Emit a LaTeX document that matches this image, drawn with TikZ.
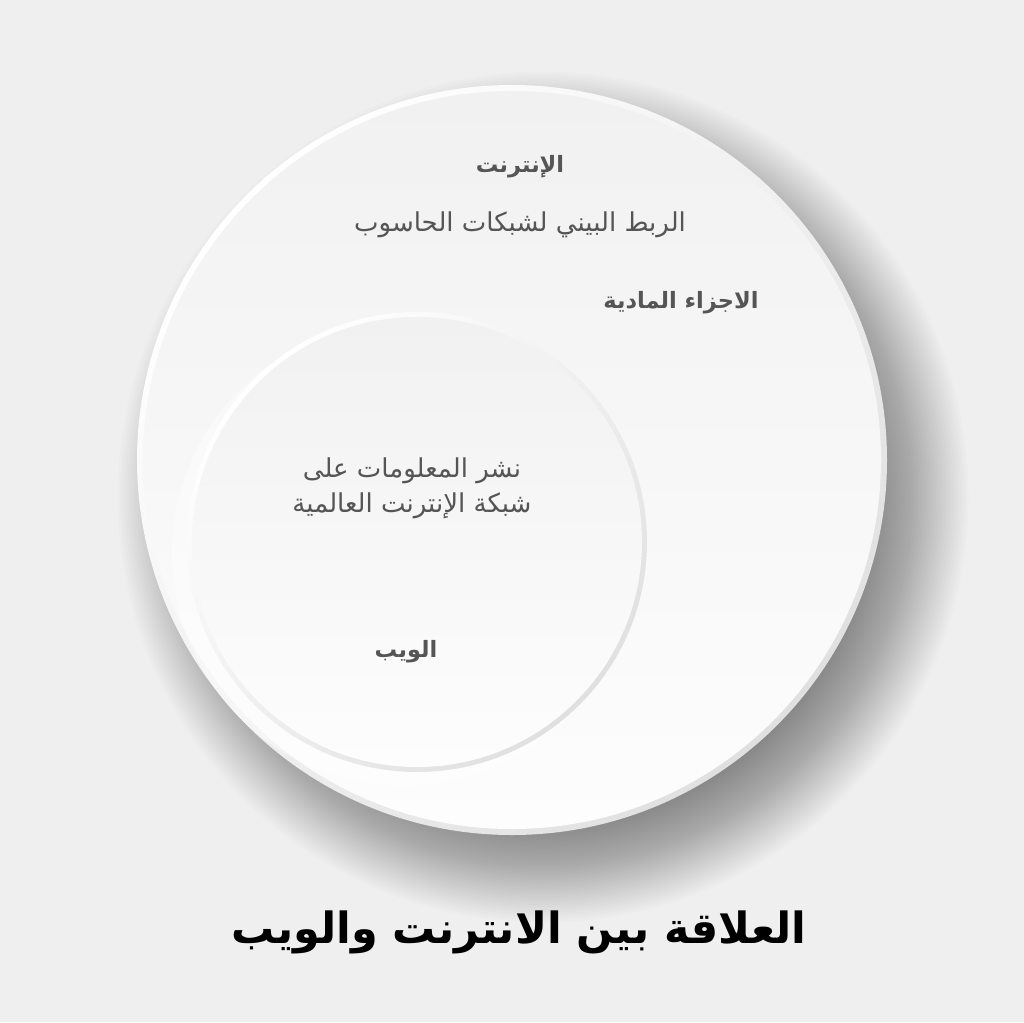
\documentclass[tikz,border=0pt]{standalone}
\usepackage{fontspec}
\newfontfamily\arabicfont[Script=Arabic]{DejaVu Sans}
\TeXXeTstate=1
\usepackage{tikz}
\definecolor{bgcol}{HTML}{EFEFEF}
\definecolor{labelcol}{HTML}{555555}
\definecolor{rimcol}{HTML}{E0E0E0}
\definecolor{facetop}{HTML}{F1F1F1}
\definecolor{facebot}{HTML}{FDFDFD}
\tikzset{label text/.style={text=labelcol, align=center, font=\arabicfont\fontsize{26}{35}\selectfont}}
\tikzset{label bold/.style={text=labelcol, font=\arabicfont\bfseries\fontsize{22.5}{28}\selectfont}}
\tikzset{title text/.style={text=black, font=\arabicfont\bfseries\fontsize{43}{50}\selectfont}}

\begin{document}
\begin{tikzpicture}[x=1pt, y=-1pt]
\fill[bgcol] (0,0) rectangle (1024,1022);
\useasboundingbox (0,0) rectangle (1024,1022);

% soft shadow of the big circle
\foreach \i in {1,...,44}
	\fill[black, opacity=0.0135] (543,497) circle ({428-2.5*\i});

% Internet circle
\shade[top color=white, bottom color=rimcol, shading angle=45] (512,460) circle (375);
\shade[top color=facetop, bottom color=facebot] (512,460) circle (369);

% Web circle
\fill[white, opacity=0.4] (404,554) circle (232);
\shade[top color=white, bottom color=rimcol, shading angle=45] (417,542) circle (230);
\shade[top color=facetop, bottom color=facebot] (417,542) circle (225);

% labels
\node[label bold] (net) at (520,167) {\beginR الإنترنت\endR};
\node[label text] (netdef) at (520,225) {\beginR الربط البيني لشبكات الحاسوب\endR};
\node[label bold] (hw) at (681,303) {\beginR الاجزاء المادية\endR};
\node[label text] (webdef) at (412,488) {\beginR نشر المعلومات على\endR\\ \beginR شبكة الإنترنت العالمية\endR};
\node[label bold] (web) at (406,652) {\beginR الويب\endR};

\node[title text] (title) at (519,932) {\beginR العلاقة بين الانترنت والويب\endR};
\end{tikzpicture}
\end{document}
